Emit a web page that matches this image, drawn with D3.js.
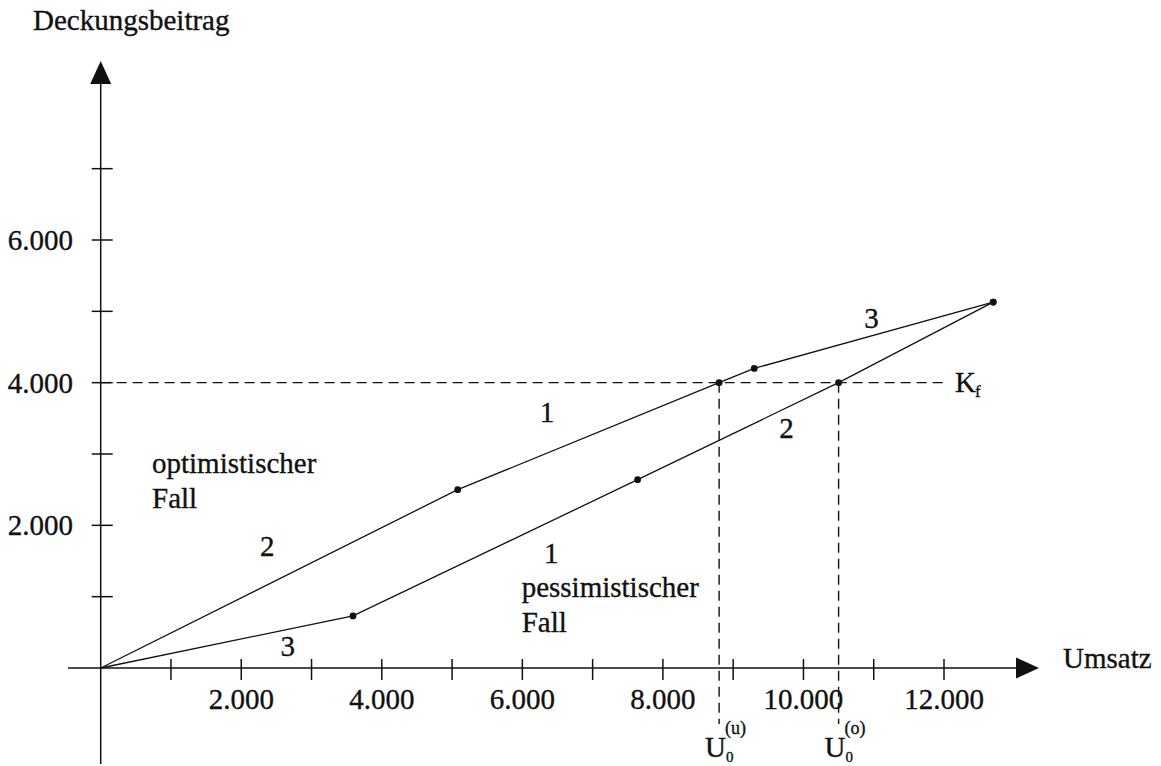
<!DOCTYPE html>
<html lang="en">
<head>
  <meta charset="utf-8">
  <title>Deckungsbeitrag</title>
  <script src="https://d3js.org/d3.v7.min.js"></script>
  <style>
    html, body { margin: 0; padding: 0; background: #fff; }
    svg text { font-family: "Liberation Serif", "DejaVu Serif", serif; fill: #111; stroke: #111; stroke-width: 0.35px; }
  </style>
</head>
<body>
<script>
  // values (Umsatz, Deckungsbeitrag)
  var optimistic = [[0, 0], [5080, 2500], [8800, 4000], [9300, 4200], [12700, 5130]];
  var pessimistic = [[0, 0], [3590, 730], [7640, 2640], [10500, 4000], [12700, 5130]];
  var fixedCost = 4000;
  var breakEven = [{ x: 8800, sup: "(u)" }, { x: 10500, sup: "(o)" }];
  var xTicks = d3.range(1000, 13000, 1000);
  var xLabels = [2000, 4000, 6000, 8000, 10000, 12000];
  var yTicks = d3.range(1000, 8000, 1000);
  var yLabels = [2000, 4000, 6000];
  // segment numbers: [text, x, y]
  var segLabels = [
    ["2", 2370, 1710], ["1", 6350, 3590], ["3", 10970, 4910],
    ["3", 2660, 310], ["1", 6410, 1610], ["2", 9760, 3360]
  ];
  // case labels: [line 1, line 2, x, y]
  var caseLabels = [
    ["optimistischer", "Fall", 730, 2730],
    ["pessimistischer", "Fall", 5990, 1000]
  ];

  var W = 1161, H = 766;
  var x = d3.scaleLinear().domain([0, 12000]).range([100.7, 944]);
  var y = d3.scaleLinear().domain([0, 6000]).range([668, 240]);
  var fmt = function (d) { return d3.format(",")(d).replace(/,/g, "."); };
  var FS = 29;

  var svg = d3.select("body").append("svg")
    .attr("width", W).attr("height", H);

  var axes = svg.append("g").attr("stroke", "#111").attr("stroke-width", 1.5);

  // axes lines
  axes.append("line").attr("x1", x(0)).attr("x2", x(0)).attr("y1", 82).attr("y2", 764);
  axes.append("line").attr("x1", 68).attr("x2", 1018).attr("y1", y(0)).attr("y2", y(0));

  // arrow heads
  svg.append("path").attr("fill", "#111")
    .attr("d", "M" + x(0) + ",61 L" + (x(0) - 10.5) + ",84 L" + (x(0) + 10.5) + ",84 Z");
  svg.append("path").attr("fill", "#111")
    .attr("d", "M1039," + y(0) + " L1016," + (y(0) - 10.5) + " L1016," + (y(0) + 10.5) + " Z");

  // ticks
  axes.selectAll(".xt").data(xTicks).enter().append("line")
    .attr("x1", function (d) { return x(d); }).attr("x2", function (d) { return x(d); })
    .attr("y1", y(0) - 9).attr("y2", y(0) + 12);
  axes.selectAll(".yt").data(yTicks).enter().append("line")
    .attr("y1", function (d) { return y(d); }).attr("y2", function (d) { return y(d); })
    .attr("x1", x(0) - 9).attr("x2", x(0) + 12);

  // tick labels
  svg.selectAll(".xl").data(xLabels).enter().append("text")
    .attr("x", function (d) { return x(d); }).attr("y", 709)
    .attr("text-anchor", "middle").attr("font-size", FS)
    .text(fmt);
  svg.selectAll(".yl").data(yLabels).enter().append("text")
    .attr("x", 73).attr("y", function (d) { return y(d) + 10; })
    .attr("text-anchor", "end").attr("font-size", FS)
    .text(fmt);

  // axis titles
  svg.append("text").attr("x", 33).attr("y", 30).attr("font-size", FS).text("Deckungsbeitrag");
  svg.append("text").attr("x", 1063).attr("y", 668).attr("font-size", FS).text("Umsatz");

  // dashed guides
  var dash = svg.append("g").attr("stroke", "#111").attr("stroke-width", 1.4)
    .attr("stroke-dasharray", "10,6").attr("fill", "none");
  dash.append("line").attr("x1", x(0)).attr("x2", 947)
    .attr("y1", y(fixedCost)).attr("y2", y(fixedCost));
  dash.selectAll(".v").data(breakEven).enter().append("line")
    .attr("x1", function (d) { return x(d.x); }).attr("x2", function (d) { return x(d.x); })
    .attr("y1", y(fixedCost)).attr("y2", 724);

  svg.append("text").attr("x", 955).attr("y", 392).attr("font-size", FS).text("K");
  svg.append("text").attr("x", 975).attr("y", 397).attr("font-size", 17).text("f");

  // break-even labels
  breakEven.forEach(function (d) {
    svg.append("text").attr("x", x(d.x) - 14).attr("y", 757).attr("font-size", FS).text("U");
    svg.append("text").attr("x", x(d.x) + 7).attr("y", 762).attr("font-size", 15).text("0");
    svg.append("text").attr("x", x(d.x) + 6).attr("y", 734).attr("font-size", 18).text(d.sup);
  });

  // curves
  var line = d3.line().x(function (d) { return x(d[0]); }).y(function (d) { return y(d[1]); });
  [optimistic, pessimistic].forEach(function (s) {
    svg.append("path").datum(s).attr("d", line)
      .attr("fill", "none").attr("stroke", "#111").attr("stroke-width", 1.3);
    svg.selectAll(null).data(s.slice(1)).enter().append("circle")
      .attr("cx", function (d) { return x(d[0]); }).attr("cy", function (d) { return y(d[1]); })
      .attr("r", 3.4).attr("fill", "#111");
  });

  // segment numbers
  svg.selectAll(".sl").data(segLabels).enter().append("text")
    .attr("x", function (d) { return x(d[1]); }).attr("y", function (d) { return y(d[2]) + 10; })
    .attr("text-anchor", "middle").attr("font-size", FS)
    .text(function (d) { return d[0]; });

  // case labels
  caseLabels.forEach(function (c) {
    svg.append("text").attr("x", x(c[2])).attr("y", y(c[3])).attr("font-size", FS).text(c[0]);
    svg.append("text").attr("x", x(c[2])).attr("y", y(c[3]) + 35).attr("font-size", FS).text(c[1]);
  });
</script>
</body>
</html>
